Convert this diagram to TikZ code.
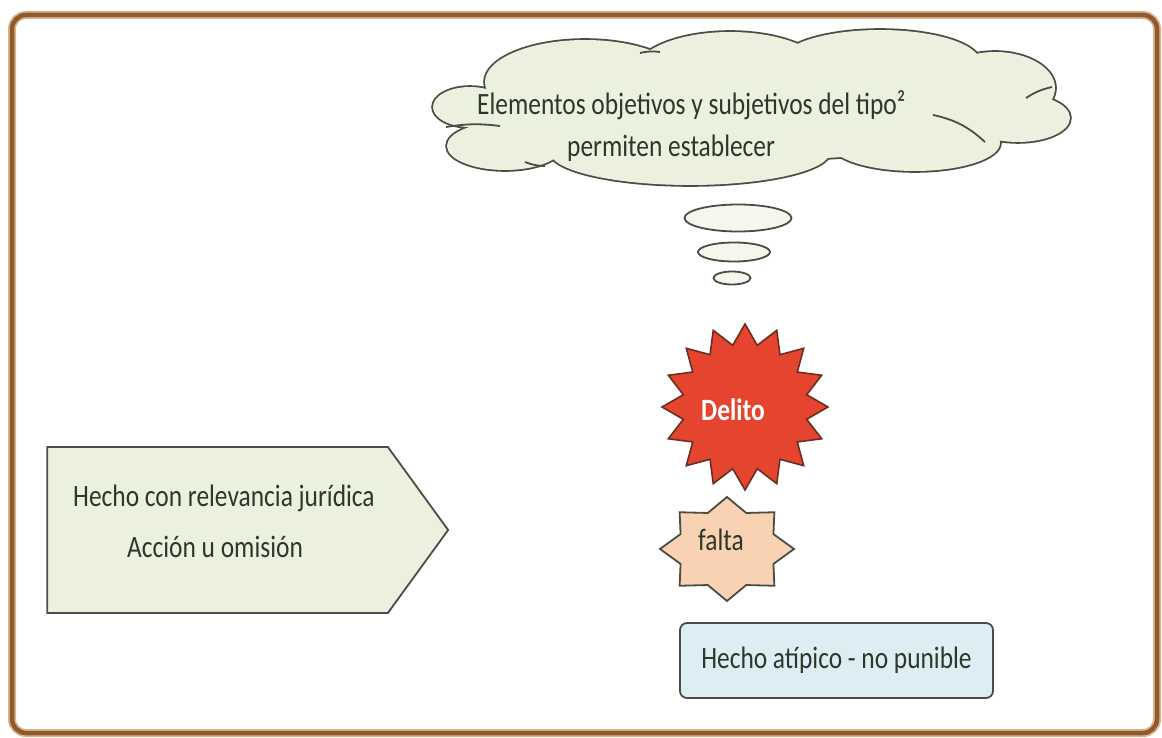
\documentclass[tikz,border=0pt]{standalone}
\usepackage{fontspec}
\setmainfont{Carlito}[FakeStretch=0.82]
\usetikzlibrary{shapes.geometric,shapes.symbols}
\definecolor{framebrown}{HTML}{8F5A2E}
\definecolor{framelight}{HTML}{D9B48F}
\definecolor{edgegray}{HTML}{4B4D45}
\definecolor{cloudfill}{HTML}{ECF1DF}
\definecolor{bubblefill}{HTML}{F4F7EC}
\definecolor{delitored}{HTML}{E5452E}
\definecolor{delitoedge}{HTML}{6B2E22}
\definecolor{faltafill}{HTML}{F8D2B3}
\definecolor{bluefill}{HTML}{DCEEF3}
\definecolor{txtcol}{HTML}{2E3829}
\tikzset{
  txt/.style={inner sep=0, text=txtcol, font=\fontsize{31}{42}\selectfont},
  shapeline/.style={draw=edgegray, line width=1.8},
  bubble/.style={ellipse, shapeline, fill=bubblefill, inner sep=0},
}
\newcommand{\cloudlobes}{%
  (470,107) ellipse [x radius=37, y radius=20]
  (505,146) ellipse [x radius=58, y radius=24]
  (585,82) ellipse [x radius=100, y radius=42]
  (730,72) ellipse [x radius=95, y radius=40]
  (880,62) ellipse [x radius=100, y radius=32]
  (995,88) ellipse [x radius=60, y radius=36]
  (1018,118) ellipse [x radius=52, y radius=24]
  (915,143) ellipse [x radius=85, y radius=28]
  (690,152) ellipse [x radius=140, y radius=33]
  (750,110) ellipse [x radius=270, y radius=50]}
\begin{document}
\begin{tikzpicture}[x=1pt,y=-1pt]
\useasboundingbox (0,0) rectangle (1162,738);
\fill[white] (0,0) rectangle (1162,738);
% frame
\draw[framelight, line width=8, rounded corners=14] (12,15) rectangle (1157,733);
\draw[framebrown, line width=4.5, rounded corners=14] (12,15) rectangle (1157,733);

% cloud (union of lobes, outer outline only)
\coordinate (cloud) at (752,110);
\filldraw[draw=edgegray, fill=cloudfill, line width=3.6] \cloudlobes;
\fill[cloudfill] \cloudlobes;
% inner strokes of the cloud
\draw[edgegray, line width=1.8] (446,127) to[bend left=8] (500,126);
\draw[edgegray, line width=1.8] (933,115) to[bend left=15] (985,142);
\draw[edgegray, line width=1.8] (1026,98) to[bend left=10] (1052,87);
\draw[edgegray, line width=1.8] (640,53) to[bend left=10] (660,52);
\draw[edgegray, line width=1.8] (525,162) to[bend right=10] (545,166);
\node[txt, anchor=base west] (cloudA) at (477,115) {Elementos objetivos y subjetivos del tipo²};
\node[txt, anchor=base west] (cloudB) at (567,157) {permiten establecer};

% thought bubbles
\node[bubble, minimum width=107, minimum height=27] (b1) at (738,218) {};
\node[bubble, minimum width=72, minimum height=19] (b2) at (734,252) {};
\node[bubble, minimum width=37, minimum height=13] (b3) at (732,278) {};

% Delito
\node[star, star points=16, star point ratio=1.32, minimum size=166, inner sep=0,
      fill=delitored, draw=delitoedge, line width=1.6] (delito) at (745,407) {};
\node[inner sep=0, text=white, font=\fontsize{31}{34}\selectfont\bfseries] (delitotxt) at (733,410) {Delito};

% falta
\draw[shapeline, fill=faltafill]
  plot[samples at={0,1,...,15}, variable=\k]
  ({727+cos(22.5*\k)*(67*(0.875+0.125*cos(180*\k)))},
   {549+sin(22.5*\k)*(52*(0.875+0.125*cos(180*\k)))}) -- cycle;
\node[txt] (falta) at (721,540) {falta};

% Hecho con relevancia
\node[signal, signal to=east, signal pointer angle=108,
      minimum width=401, minimum height=166, inner sep=0,
      shapeline, fill=cloudfill] (hecho) at (217.5,530) {};
\node[txt, anchor=base west] (hechoA) at (73,506) {Hecho con relevancia jurídica};
\node[txt, anchor=base west] (hechoB) at (127,557) {Acción u omisión};

% atipico
\node[txt, rectangle, rounded corners=7, minimum width=313, minimum height=75,
      shapeline, fill=bluefill] (atipico) at (836.5,660.5) {Hecho atípico - no punible};
\end{tikzpicture}
\end{document}
